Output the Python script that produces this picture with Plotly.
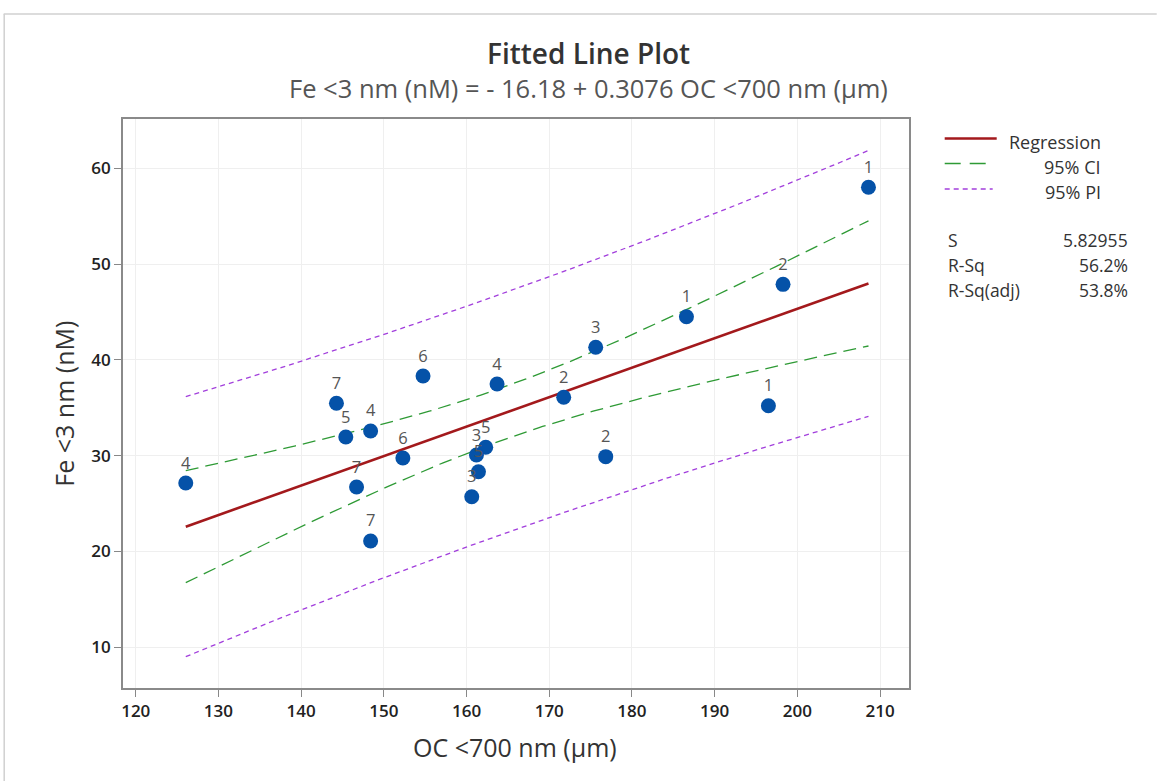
import numpy as np
import plotly.graph_objects as go

# ---- data ----
oc_700 = [126.05, 144.27, 145.4, 148.4, 146.7, 148.4, 152.3, 154.74, 163.69, 171.75,
          175.62, 162.32, 161.2, 161.44, 160.63, 176.83, 186.59, 198.27, 196.5, 208.6]
fe_3 = [27.15, 35.47, 31.95, 32.58, 26.73, 21.1, 29.76, 38.32, 37.48, 36.1,
        41.32, 30.88, 30.07, 28.33, 25.72, 29.9, 44.51, 47.89, 35.22, 58.02]
point_labels = ["4", "7", "5", "4", "7", "7", "6", "6", "4", "2",
                "3", "5", "3", "5", "3", "2", "1", "2", "1", "1"]

b0, b1 = -16.18, 0.3076
S_val = 5.82955
stats_names = ["S", "R-Sq", "R-Sq(adj)"]
stats_values = ["5.82955", "56.2%", "53.8%"]
legend_names = ["Regression", "95% CI", "95% PI"]
x_ticks = [120, 130, 140, 150, 160, 170, 180, 190, 200, 210]
y_ticks = [10, 20, 30, 40, 50, 60]

# ---- regression bands ----
x = np.array(oc_700)
n = len(x)
xbar = x.mean()
sxx = ((x - xbar) ** 2).sum()
t_crit = 2.10092  # t(0.975, 18)
xg = np.linspace(x.min(), x.max(), 200)
fit = b0 + b1 * xg
ci = t_crit * S_val * np.sqrt(1 / n + (xg - xbar) ** 2 / sxx)
pi = t_crit * S_val * np.sqrt(1 + 1 / n + (xg - xbar) ** 2 / sxx)

FONT = "Segoe UI, Open Sans, sans-serif"
RED = "#a3191c"
GREEN = "#2e9a35"
PURPLE = "#a23fdc"
BLUE = "#0552a8"
CI_DASH = "13px,7px"
PI_DASH = "5px,4px"

fig = go.Figure()
fig.add_trace(go.Scatter(x=xg, y=fit - pi, mode="lines",
                         line=dict(color=PURPLE, width=1.3, dash=PI_DASH), hoverinfo="skip"))
fig.add_trace(go.Scatter(x=xg, y=fit + pi, mode="lines",
                         line=dict(color=PURPLE, width=1.3, dash=PI_DASH), hoverinfo="skip"))
fig.add_trace(go.Scatter(x=xg, y=fit - ci, mode="lines",
                         line=dict(color=GREEN, width=1.3, dash=CI_DASH), hoverinfo="skip"))
fig.add_trace(go.Scatter(x=xg, y=fit + ci, mode="lines",
                         line=dict(color=GREEN, width=1.3, dash=CI_DASH), hoverinfo="skip"))
fig.add_trace(go.Scatter(x=xg, y=fit, mode="lines",
                         line=dict(color=RED, width=2.6), hoverinfo="skip"))
fig.add_trace(go.Scatter(x=oc_700, y=fe_3, mode="markers+text", text=point_labels,
                         textposition="top center",
                         textfont=dict(family=FONT, size=16.5, color="#555555"),
                         marker=dict(color=BLUE, size=15)))

# plot area geometry (pixels)
L, R, T, B = 123.3, 909.3, 119.0, 688.0
W, H = 1157, 781
def px(xp):
    return (xp - L) / (R - L)
def py(yp):
    return (B - yp) / (B - T)

shapes = []
# outer window frame
shapes.append(dict(type="line", xref="paper", yref="paper", x0=px(4), x1=px(1157),
                   y0=py(14), y1=py(14), line=dict(color="#d0d0d0", width=1.5)))
shapes.append(dict(type="line", xref="paper", yref="paper", x0=px(4.5), x1=px(4.5),
                   y0=py(14), y1=py(781), line=dict(color="#d0d0d0", width=1.5)))
# legend samples
shapes.append(dict(type="line", xref="paper", yref="paper", x0=px(945), x1=px(997),
                   y0=py(138.5), y1=py(138.5), line=dict(color=RED, width=2.6)))
shapes.append(dict(type="line", xref="paper", yref="paper", x0=px(945), x1=px(988),
                   y0=py(163.5), y1=py(163.5), line=dict(color=GREEN, width=1.3, dash="16px,9px")))
shapes.append(dict(type="line", xref="paper", yref="paper", x0=px(945), x1=px(993),
                   y0=py(189), y1=py(189), line=dict(color=PURPLE, width=1.3, dash=PI_DASH)))

TXT = "#333333"
ann = []
ann.append(dict(text="Fitted Line Plot", xref="paper", yref="paper", x=px(589), y=py(53),
                showarrow=False, xanchor="center", yanchor="middle",
                font=dict(family=FONT, size=28, color=TXT, weight=600)))
ann.append(dict(text="Fe <3 nm (nM) = - 16.18 + 0.3076 OC <700 nm (µm)", xref="paper", yref="paper",
                x=px(589), y=py(88), showarrow=False, xanchor="center", yanchor="middle",
                font=dict(family=FONT, size=25.5, color="#555555")))
for nm, yy in zip(legend_names, [141.5, 166.5, 191.5]):
    ann.append(dict(text=nm, xref="paper", yref="paper", x=px(1103), y=py(yy),
                    showarrow=False, xanchor="right", yanchor="middle",
                    font=dict(family=FONT, size=18, color=TXT)))
for nm, val, yy in zip(stats_names, stats_values, [240, 265, 290]):
    ann.append(dict(text=nm, xref="paper", yref="paper", x=px(946), y=py(yy),
                    showarrow=False, xanchor="left", yanchor="middle",
                    font=dict(family=FONT, size=17.5, color=TXT)))
    ann.append(dict(text=val, xref="paper", yref="paper", x=px(1130), y=py(yy),
                    showarrow=False, xanchor="right", yanchor="middle",
                    font=dict(family=FONT, size=17.5, color=TXT)))
# axis titles
ann.append(dict(text="OC <700 nm (µm)", xref="paper", yref="paper", x=px(515), y=py(747),
                showarrow=False, xanchor="center", yanchor="middle",
                font=dict(family=FONT, size=25, color=TXT)))
ann.append(dict(text="Fe <3 nm (nM)", xref="paper", yref="paper", x=px(64), y=py(404),
                showarrow=False, xanchor="center", yanchor="middle", textangle=-90,
                font=dict(family=FONT, size=25, color=TXT)))

fig.update_layout(
    width=W, height=H, autosize=False,
    margin=dict(l=L, r=W - R, t=T, b=H - B, pad=0),
    paper_bgcolor="white", plot_bgcolor="white",
    showlegend=False, shapes=shapes, annotations=ann,
    font=dict(family=FONT, color=TXT),
)
fig.update_xaxes(range=[118.46, 213.5], tickvals=x_ticks, ticks="outside", ticklen=7,
                 tickcolor="#888888", tickwidth=1,
                 tickfont=dict(family=FONT, size=17, color="#222222", weight=600),
                 showline=True, linecolor="#8a8a8a", linewidth=1.6, mirror=True,
                 showgrid=True, gridcolor="#efefef", zeroline=False)
fig.update_yaxes(range=[5.75, 65.15], tickvals=y_ticks, ticks="outside", ticklen=7,
                 tickcolor="#888888", tickwidth=1,
                 tickfont=dict(family=FONT, size=17, color="#222222", weight=600),
                 showline=True, linecolor="#8a8a8a", linewidth=1.6, mirror=True,
                 showgrid=True, gridcolor="#efefef", zeroline=False)

fig.write_html("out.html")
